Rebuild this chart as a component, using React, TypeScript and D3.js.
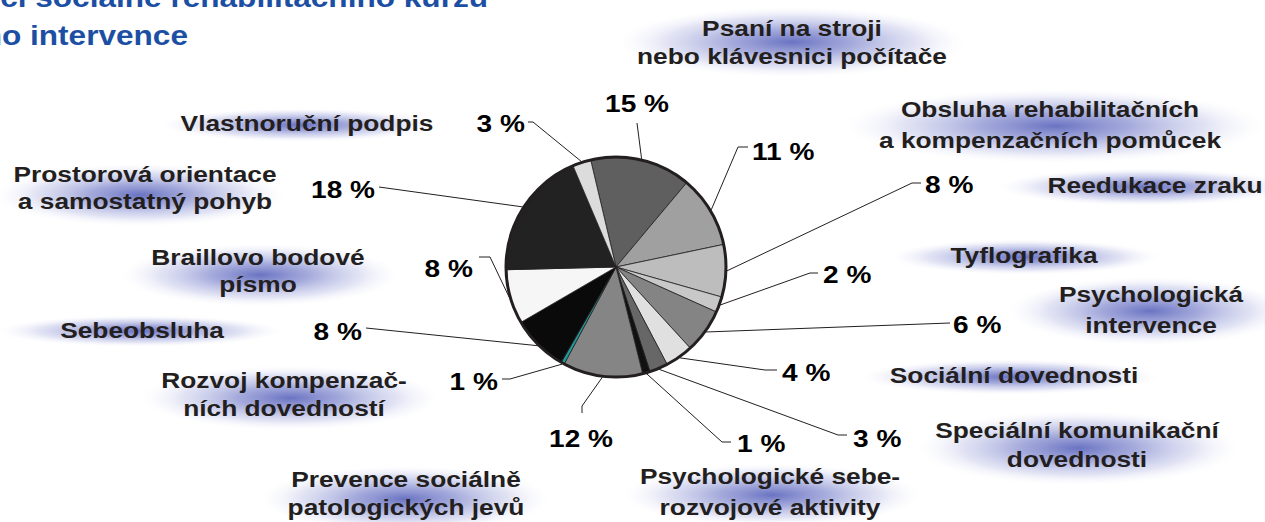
import React from 'react'
import * as d3 from 'd3'

// slice order: clockwise from the top
const categories = [
  ['Psaní na stroji', 'nebo klávesnici počítače'],
  ['Obsluha rehabilitačních', 'a kompenzačních pomůcek'],
  ['Reedukace zraku'],
  ['Tyflografika'],
  ['Psychologická', 'intervence'],
  ['Sociální dovednosti'],
  ['Speciální komunikační', 'dovednosti'],
  ['Psychologické sebe-', 'rozvojové aktivity'],
  ['Prevence sociálně', 'patologických jevů'],
  ['Rozvoj kompenzač-', 'ních dovedností'],
  ['Sebeobsluha'],
  ['Braillovo bodové', 'písmo'],
  ['Prostorová orientace', 'a samostatný pohyb'],
  ['Vlastnoruční podpis'],
]
// slice shares as drawn
const values = [14.8, 10.6, 7.7, 2.3, 6.5, 4.1, 2.7, 1.1, 11.7, 0.5, 8.3, 8, 19, 2.7]
const percentLabels = ['15 %', '11 %', '8 %', '2 %', '6 %', '4 %', '3 %', '1 %', '12 %', '1 %', '8 %', '8 %', '18 %', '3 %']
const titleLines = ['Struktura výuky v rámci sociálně rehabilitačního kurzu', 'a psychologického intervence']

const colors = ['#5f5f5f', '#a0a0a0', '#bdbdbd', '#c8c8c8', '#848484', '#e0e0e0', '#676767',
  '#111111', '#858585', '#1f9a9a', '#0a0a0a', '#f6f6f6', '#222222', '#dcdcdc']

// label layout: leader points, percent text, category text + glow
const layout = [
  { pts: [[637, 123]], pct: [637, 112, 'middle'], cat: [792, 36, 28], glow: [792, 42, 178, 36] },
  { pts: [[738, 147], [748, 147]], pct: [752, 160, 'start'], cat: [1050, 117, 31], glow: [1055, 126, 215, 38] },
  { pts: [[912, 183], [921, 183]], pct: [925, 193, 'start'], cat: [1155, 193, 0], glow: [1145, 187, 150, 19] },
  { pts: [[810, 273], [818, 273]], pct: [823, 283, 'start'], cat: [1024, 263, 0], glow: [1025, 257, 138, 18] },
  { pts: [[950, 323]], pct: [953, 333, 'start'], cat: [1151, 302, 31], glow: [1150, 311, 145, 35] },
  { pts: [[765, 370], [777, 370]], pct: [782, 381, 'start'], cat: [1014, 383, 0], glow: [1010, 377, 152, 18] },
  { pts: [[838, 435], [847, 435]], pct: [853, 447, 'start'], cat: [1077, 438, 29], glow: [1078, 448, 165, 38] },
  { pts: [[722, 442], [731, 442]], pct: [737, 452, 'start'], cat: [770, 484, 31], glow: [772, 495, 152, 32] },
  { pts: [[582, 406], [582, 413]], pct: [581, 447, 'middle'], cat: [406, 487, 28], glow: [405, 499, 148, 34] },
  { pts: [[510, 379], [502, 379]], pct: [498, 390, 'end'], cat: [284, 388, 28], glow: [290, 398, 152, 33] },
  { pts: [[366, 328]], pct: [362, 340, 'end'], cat: [142, 338, 0], glow: [140, 331, 145, 16] },
  { pts: [[490, 257], [479, 257]], pct: [473, 277, 'end'], cat: [258, 265, 27], glow: [260, 275, 142, 32] },
  { pts: [[379, 187]], pct: [375, 198, 'end'], cat: [145, 182, 27], glow: [140, 195, 148, 32] },
  { pts: [[533, 122], [528, 122]], pct: [525, 132, 'end'], cat: [307, 131, 0], glow: [300, 125, 142, 17] },
]

const W = 1265
const H = 522
const cx = 616
const cy = 267
const r = 110
const sx = 1.17
const font = '"Liberation Sans", Arial, Helvetica, sans-serif'

const App = () => {
  const start = (-13.3 * Math.PI) / 180
  const pie = d3.pie<number>().sort(null).startAngle(start).endAngle(start + 2 * Math.PI)
  const arcs = pie(values)
  const arc = d3.arc<d3.PieArcDatum<number>>().innerRadius(0).outerRadius(r)
  const line = d3.line()

  return (
    <svg width={W} height={H} style={{ position: 'absolute', left: 0, top: 0, background: '#fff' }}>
      <defs>
        <radialGradient id="glow">
          <stop offset="0%" stopColor="#6a73c2" stopOpacity={1} />
          <stop offset="35%" stopColor="#8f96d3" stopOpacity={0.8} />
          <stop offset="70%" stopColor="#bcc0e6" stopOpacity={0.45} />
          <stop offset="90%" stopColor="#e4e6f5" stopOpacity={0.15} />
          <stop offset="100%" stopColor="#ffffff" stopOpacity={0} />
        </radialGradient>
      </defs>

      {/* title, only partly in view as in the source */}
      <text transform={`translate(488,7) scale(${sx},1)`} textAnchor="end"
        fontFamily={font} fontWeight="bold" fontSize={27} fill="#1c4fa3">{titleLines[0]}</text>
      <text transform={`translate(188,45) scale(${sx},1)`} textAnchor="end"
        fontFamily={font} fontWeight="bold" fontSize={27} fill="#1c4fa3">{titleLines[1]}</text>

      {layout.map((l, i) => (
        <ellipse key={'g' + i} cx={l.glow[0]} cy={l.glow[1]} rx={l.glow[2]} ry={l.glow[3]} fill="url(#glow)" />
      ))}

      {categories.map((lines, i) => {
        const [x, y, lh] = layout[i].cat as number[]
        return lines.map((t, j) => (
          <text key={'c' + i + j} transform={`translate(${x},${y + j * lh}) scale(${sx},1)`} textAnchor="middle"
            fontFamily={font} fontWeight="bold" fontSize={22.5} fill="#231f20">{t}</text>
        ))
      })}

      <g transform={`translate(${cx},${cy})`}>
        {arcs.map((a, i) => (
          <path key={'s' + i} d={arc(a) || ''} fill={colors[i]} stroke="#231f20" strokeWidth={0.8} />
        ))}
        <circle r={r} fill="none" stroke="#231f20" strokeWidth={3} />
      </g>

      {arcs.map((a, i) => {
        const m = (a.startAngle + a.endAngle) / 2
        const p0: [number, number] = [cx + (r + 1) * Math.sin(m), cy - (r + 1) * Math.cos(m)]
        const pts = [p0, ...(layout[i].pts as [number, number][])]
        return <path key={'l' + i} d={line(pts) || ''} fill="none" stroke="#231f20" strokeWidth={1} />
      })}

      {percentLabels.map((t, i) => {
        const [x, y, anchor] = layout[i].pct as [number, number, string]
        return (
          <text key={'p' + i} transform={`translate(${x},${y}) scale(${sx},1)`} textAnchor={anchor}
            fontFamily={font} fontWeight="bold" fontSize={24} fill="#000">{t}</text>
        )
      })}
    </svg>
  )
}

export default App
